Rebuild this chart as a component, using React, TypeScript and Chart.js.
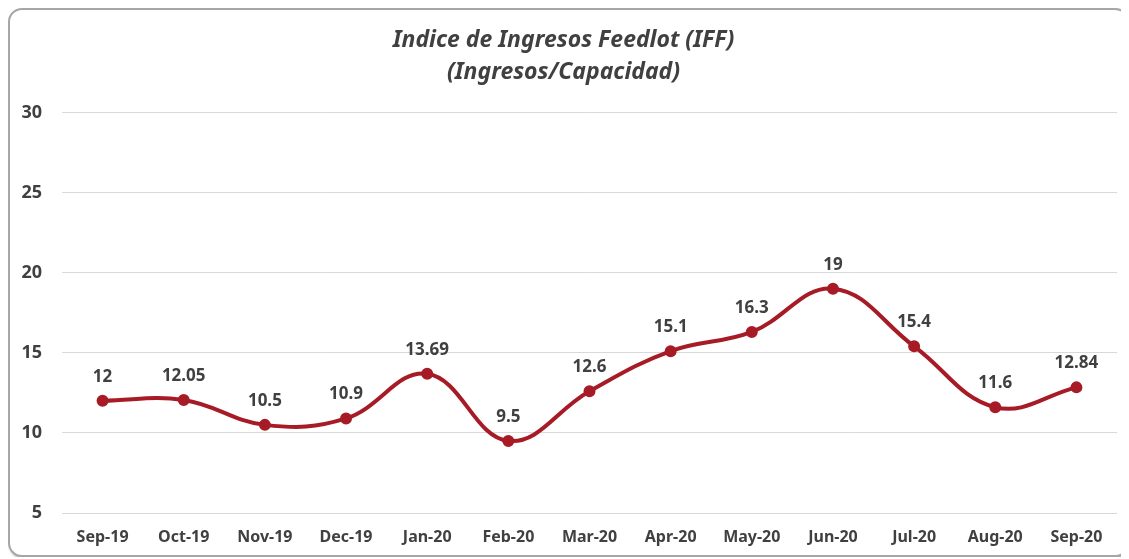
import React, { useEffect, useRef } from "react";
import { Chart, registerables } from "chart.js";

Chart.register(...registerables);

const categories = ["Sep-19", "Oct-19", "Nov-19", "Dec-19", "Jan-20", "Feb-20", "Mar-20", "Apr-20", "May-20", "Jun-20", "Jul-20", "Aug-20", "Sep-20"];
const iffValues = [12, 12.05, 10.5, 10.9, 13.69, 9.5, 12.6, 15.1, 16.3, 19, 15.4, 11.6, 12.84];
const titleLines = ["Indice de Ingresos Feedlot (IFF)", "(Ingresos/Capacidad)"];
const yMin = 5;
const yMax = 30;
const yStep = 5;

const FONT = "'Noto Sans', 'DejaVu Sans', sans-serif";
const LINE_COLOR = "#A61B25";
const TEXT_COLOR = "#404040";

const dataLabelPlugin = {
  id: "dataLabels",
  afterDatasetsDraw(chart: any) {
    const ctx = chart.ctx;
    const meta = chart.getDatasetMeta(0);
    const data = chart.data.datasets[0].data;
    ctx.save();
    ctx.font = `bold 17px ${FONT}`;
    ctx.fillStyle = TEXT_COLOR;
    ctx.textAlign = "center";
    ctx.textBaseline = "middle";
    meta.data.forEach((pt: any, i: number) => {
      ctx.fillText(String(data[i]), pt.x, pt.y - 24);
    });
    ctx.restore();
  },
};

export default function App() {
  const canvasRef = useRef<HTMLCanvasElement | null>(null);

  useEffect(() => {
    if (!canvasRef.current) return;
    const chart = new Chart(canvasRef.current, {
      type: "line",
      data: {
        labels: categories,
        datasets: [
          {
            data: iffValues,
            borderColor: LINE_COLOR,
            backgroundColor: LINE_COLOR,
            borderWidth: 4,
            pointRadius: 4,
            pointHoverRadius: 4,
            pointBackgroundColor: LINE_COLOR,
            pointBorderColor: LINE_COLOR,
            tension: 0.4,
            fill: false,
          },
        ],
      },
      options: {
        animation: false,
        responsive: true,
        maintainAspectRatio: false,
        layout: { padding: { left: 0, right: 10, top: 14, bottom: 0 } },
        plugins: {
          legend: { display: false },
          tooltip: { enabled: false },
          title: {
            display: true,
            text: titleLines,
            color: TEXT_COLOR,
            font: { family: FONT, size: 23, weight: "bold", style: "italic", lineHeight: 1.4 },
            padding: { top: 0, bottom: 24 },
          },
        },
        scales: {
          x: {
            offset: true,
            grid: { display: false, drawTicks: false },
            border: { display: false },
            afterFit: (scale: any) => {
              scale.height = 42;
            },
            ticks: {
              color: TEXT_COLOR,
              font: { family: FONT, size: 16, weight: "bold" },
              padding: 15,
              maxRotation: 0,
              autoSkip: false,
            },
          },
          y: {
            min: yMin,
            max: yMax,
            grid: { color: "#d9d9d9", lineWidth: 1, drawTicks: false },
            border: { display: false },
            afterFit: (scale: any) => {
              scale.width = 52;
            },
            ticks: {
              stepSize: yStep,
              color: TEXT_COLOR,
              font: { family: FONT, size: 18, weight: "bold" },
              padding: 20,
            },
          },
        },
      },
      plugins: [dataLabelPlugin],
    });
    return () => chart.destroy();
  }, []);

  return (
    <div
      style={{
        width: 1117,
        height: 545,
        border: "2px solid #a6a6a6",
        borderRadius: 14,
        boxShadow: "2px 2px 3px rgba(0,0,0,0.35)",
        background: "#fff",
        position: "relative",
        overflow: "hidden",
      }}
    >
      <canvas ref={canvasRef} />
    </div>
  );
}
